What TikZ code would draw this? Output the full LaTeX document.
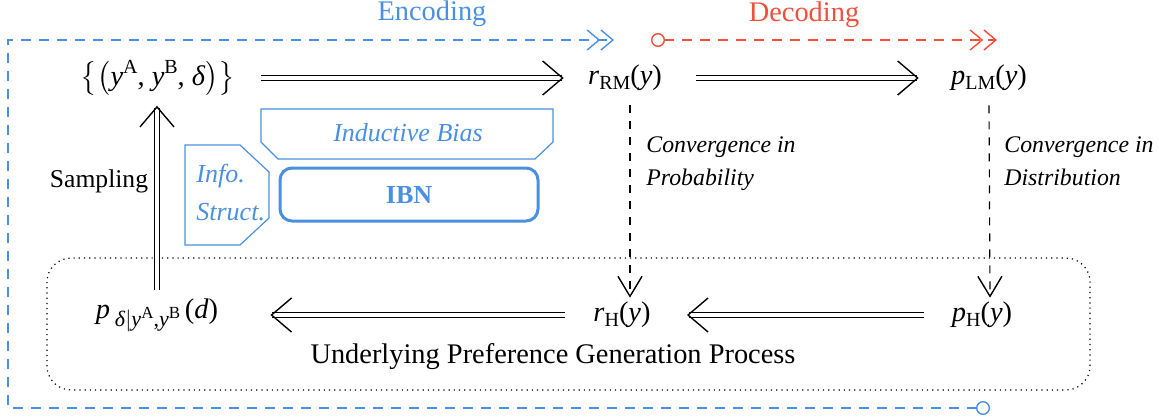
\documentclass[tikz,border=0pt]{standalone}
\usepackage{mathptmx}
\usepackage[no-math]{fontspec}
\setmainfont{Liberation Serif}
\usetikzlibrary{arrows.meta,calc}
\definecolor{ibblue}{RGB}{74,144,226}
\definecolor{ibred}{RGB}{240,80,60}
\newcommand{\mi}[1]{\textit{#1}}
\newcommand{\sbs}[1]{\raisebox{-0.35ex}{\fontsize{10}{10}\selectfont #1}}
\newcommand{\sps}[1]{\raisebox{0.9ex}{\fontsize{10}{10}\selectfont #1}}
\tikzset{
  lbl/.style={inner sep=0pt, font=\fontsize{14.2}{17}\selectfont},
  dblarrow/.style={double, double distance=1.6pt, line width=0.55pt, -{Straight Barb[length=10pt,width=17pt,line width=0.7pt]}},
  convarrow/.style={dashed, dash pattern=on 4pt off 4pt, line width=0.6pt, -{Straight Barb[length=10pt,width=12pt,line width=0.7pt]}},
  conv/.style={inner sep=0pt, align=left, anchor=north west, font=\fontsize{11.9}{16.5}\selectfont\itshape},
  bluebox/.style={draw=ibblue, line width=0.6pt},
  flow/.style={dashed, dash pattern=on 5pt off 4pt, line width=0.6pt},
  endtips/.style={{Circle[open,length=7pt,width=7pt,line width=0.7pt]}-{Straight Barb[length=6pt,width=10pt,line width=0.7pt]Straight Barb[length=6pt,width=10pt,line width=0.7pt]}},
}
\begin{document}
\begin{tikzpicture}[x=0.5pt,y=-0.5pt]
\useasboundingbox (0,0) rectangle (1159,419);
% nodes
\node[lbl] (set) at (158,78) {$\bigl\{\bigl($\mi{y}\sps{A}, \mi{y}\sps{B}, \mi{δ}$\bigr)\bigr\}$};
\node[lbl] (rRM) at (625,78) {\mi{r}\sbs{RM}(\mi{y})};
\node[lbl] (pLM) at (989,78) {\mi{p}\sbs{LM}(\mi{y})};
\node[lbl] (pd) at (157,315) {\mi{p}\,\raisebox{-0.6ex}{\fontsize{11}{11}\selectfont\mi{δ}$|$\mi{y}\raisebox{0.7ex}{\fontsize{8.5}{8.5}\selectfont A},\mi{y}\raisebox{0.7ex}{\fontsize{8.5}{8.5}\selectfont B}}\,(\mi{d})};
\node[lbl] (rH) at (622,315) {\mi{r}\sbs{H}(\mi{y})};
\node[lbl] (pH) at (982,315) {\mi{p}\sbs{H}(\mi{y})};
\node[lbl, font=\fontsize{12.8}{15}\selectfont] (samp) at (99,181) {Sampling};
\node[lbl] (upgp) at (553,357) {Underlying Preference Generation Process};
% dotted process box
\draw[dotted, line width=0.6pt, rounded corners=12pt] (47,258) rectangle (1090,390);
% main arrows
\draw[dblarrow, shorten <=13pt, shorten >=12pt] (set.east) -- (rRM.west);
\draw[dblarrow, shorten <=17pt, shorten >=16pt] (rRM.east) -- (pLM.west);
\draw[dblarrow, shorten <=14pt, shorten >=18pt] (pH.west) -- (rH.east);
\draw[dblarrow, shorten <=14pt, shorten >=26pt] (rH.west) -- (pd.east);
\draw[dblarrow, shorten <=4pt, shorten >=5pt] (pd.north) -- (set.south -| pd.north);
% convergence arrows
\draw[convarrow] ([yshift=-7pt,xshift=2.5pt]rRM.south) -- ([xshift=4pt,yshift=2pt]rH.north);
\draw[convarrow] ([yshift=-7pt]pLM.south) -- ([xshift=4pt,yshift=2pt]pH.north);
\node[conv] (cp) at (646,136) {Convergence in\\Probability};
\node[conv] (cd) at (1004,136) {Convergence in\\Distribution};
% blue boxes
\draw[bluebox] (185,145) -- (240,145) -- (269,172) -- (269,218) -- (240,245) -- (185,245) -- cycle;
\node[conv, anchor=west, align=left, text=ibblue, font=\fontsize{13}{19}\selectfont\itshape] (info) at (196,193) {Info.\\Struct.};
\draw[bluebox] (261,109) -- (553,109) -- (553,142) -- (535,159) -- (278,159) -- (261,142) -- cycle;
\node[lbl, text=ibblue, font=\fontsize{13}{16}\selectfont\itshape] (ib) at (408,133) {Inductive Bias};
\draw[draw=ibblue, line width=1.5pt, rounded corners=6pt] (280,168) rectangle (538,221);
\node[lbl, text=ibblue, font=\fontsize{13}{16}\selectfont\bfseries] (ibn) at (409,195) {IBN};
% encoding / decoding
\coordinate (encS) at (990,408);
\coordinate (encA) at (8,408);
\coordinate (encB) at (8,40);
\coordinate (encE) at (614,40);
\coordinate (decS) at (651,40);
\coordinate (decE) at (997,40);
\draw[flow, draw=ibblue, endtips] (encS) -- (encA) -- (encB) -- (encE);
\draw[flow, draw=ibred, endtips] (decS) -- (decE);
\node[lbl, text=ibblue] (enc) at (432,14) {Encoding};
\node[lbl, text=ibred] (dec) at (804,15) {Decoding};
\end{tikzpicture}
\end{document}
